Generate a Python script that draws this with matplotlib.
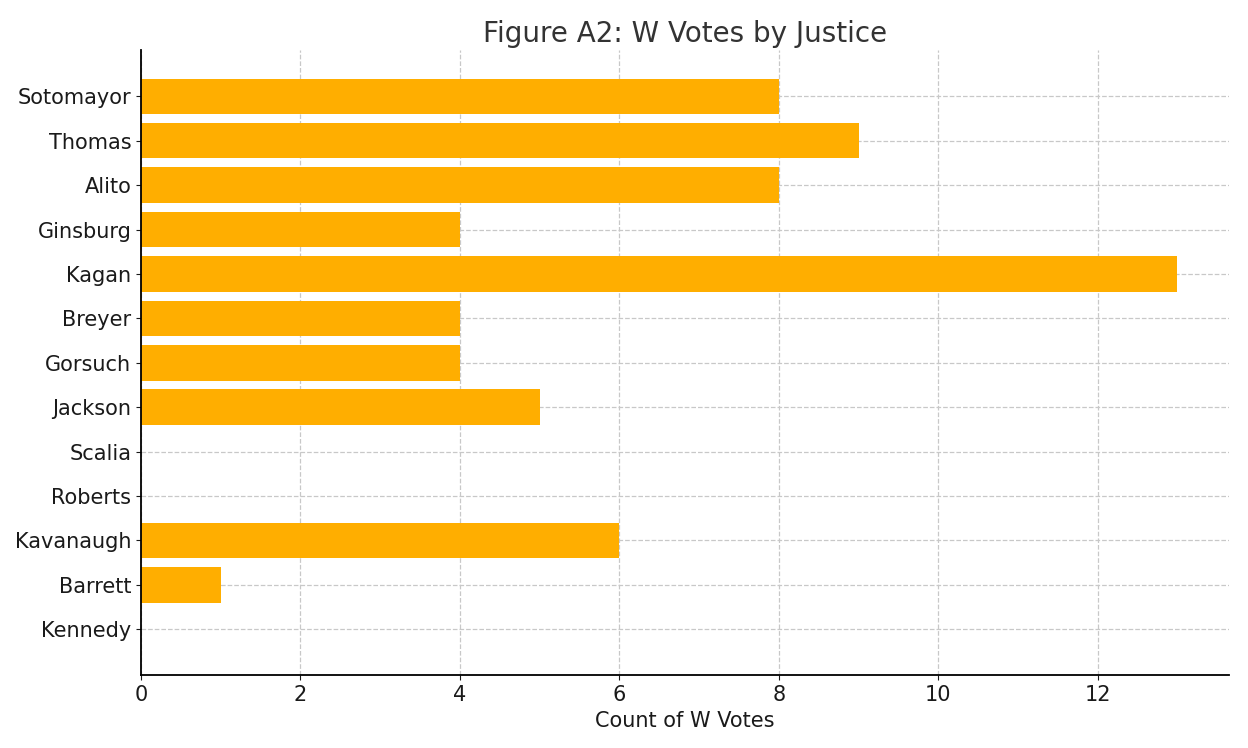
import matplotlib
matplotlib.use("Agg")
import matplotlib.pyplot as plt

justices = ["Sotomayor", "Thomas", "Alito", "Ginsburg", "Kagan", "Breyer", "Gorsuch",
            "Jackson", "Scalia", "Roberts", "Kavanaugh", "Barrett", "Kennedy"]
w_votes = [8, 9, 8, 4, 13, 4, 4, 5, 0, 0, 6, 1, 0]

fig, ax = plt.subplots(figsize=(12.48, 7.48), dpi=100)
fig.subplots_adjust(left=0.113, right=0.985, top=0.933, bottom=0.097)
ax.barh(justices, w_votes, color="#FFAE00", zorder=2)
ax.invert_yaxis()
ax.set_xlim(0, 13.65)
ax.grid(True, linestyle="--", color="#c8c8c8", linewidth=0.9, zorder=0)
ax.spines["top"].set_visible(False)
ax.spines["right"].set_visible(False)
ax.spines["left"].set_linewidth(1.3)
ax.spines["bottom"].set_linewidth(1.3)
ax.tick_params(labelsize=15, colors="#1a1a1a")
ax.set_xlabel("Count of W Votes", fontsize=15, color="#1a1a1a")
ax.set_title("Figure A2: W Votes by Justice", fontsize=20, color="#333333")
fig.savefig("out.png")
